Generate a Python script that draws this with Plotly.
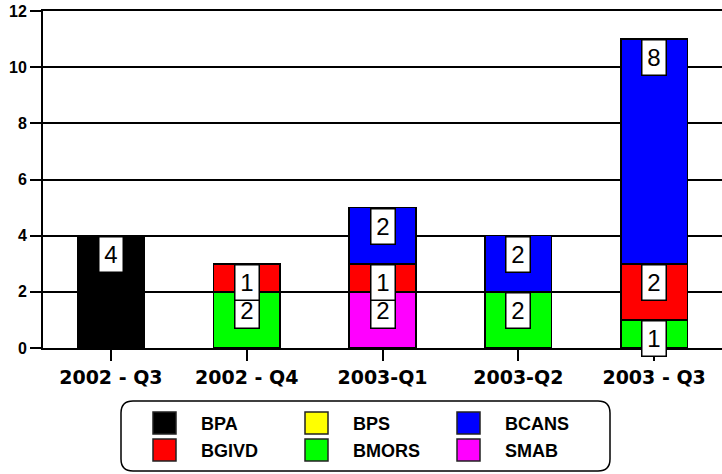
import plotly.graph_objects as go

categories = ["2002 - Q3", "2002 - Q4", "2003-Q1", "2003-Q2", "2003 - Q3"]
series_names = ["BPA", "BPS", "BMORS", "SMAB", "BGIVD", "BCANS"]
BPA = [4, 0, 0, 0, 0]
BPS = [0, 0, 0, 0, 0]
BMORS = [0, 2, 0, 2, 1]
SMAB = [0, 0, 2, 0, 0]
BGIVD = [0, 1, 1, 0, 2]
BCANS = [0, 0, 2, 2, 8]
series_values = [BPA, BPS, BMORS, SMAB, BGIVD, BCANS]
series_colors = ["#000000", "#ffff00", "#00ff00", "#ff00ff", "#ff0000", "#0000ff"]
legend_order = ["BPA", "BPS", "BCANS", "BGIVD", "BMORS", "SMAB"]
y_ticks = [0, 2, 4, 6, 8, 10, 12]

W, H = 722, 474
L, R, T, B = 43, 0, 11, 126
PW, PH = W - L - R, H - T - B

def px(x):
    return (x - L) / PW

def py(y):
    return (H - B - y) / PH

fig = go.Figure()
for name, vals, col in zip(series_names, series_values, series_colors):
    fig.add_trace(go.Bar(
        x=categories, y=[v if v else None for v in vals], name=name,
        marker=dict(color=col, line=dict(color="#000000", width=1.5)),
        showlegend=False, hoverinfo="skip"))

annotations = []
cum = [0] * len(categories)
for vals in series_values:
    for i, v in enumerate(vals):
        if v:
            cum[i] += v
            annotations.append(dict(
                x=categories[i], y=cum[i], xref="x", yref="y", text=str(v),
                showarrow=False, yanchor="top", xanchor="center",
                font=dict(family="Liberation Sans, Arial", size=24, color="black"),
                bgcolor="white", bordercolor="black", borderwidth=1.5,
                borderpad=2, width=19, height=30))

# legend box
shapes = []
x0, x1, y0, y1, r = 121, 610, 401, 471, 12
rx, ry = r / PW, r / PH
X0, X1, Y0, Y1 = px(x0), px(x1), py(y0), py(y1)
path = (f"M {X0+rx},{Y0} L {X1-rx},{Y0} Q {X1},{Y0} {X1},{Y0-ry} "
        f"L {X1},{Y1+ry} Q {X1},{Y1} {X1-rx},{Y1} L {X0+rx},{Y1} "
        f"Q {X0},{Y1} {X0},{Y1+ry} L {X0},{Y0-ry} Q {X0},{Y0} {X0+rx},{Y0} Z")
shapes.append(dict(type="path", path=path, xref="paper", yref="paper",
                   line=dict(color="black", width=1.5), fillcolor="white", layer="below"))

col_sq = [153, 305, 457]
col_tx = [199, 351, 503]
row_sq = [412, 439]
row_tx = [424, 451]
color_of = dict(zip(series_names, series_colors))
for k, name in enumerate(legend_order):
    r_i, c_i = divmod(k, 3)
    shapes.append(dict(type="rect", xref="paper", yref="paper",
                       x0=px(col_sq[c_i]), x1=px(col_sq[c_i] + 23),
                       y0=py(row_sq[r_i]), y1=py(row_sq[r_i] + 22),
                       fillcolor=color_of[name], line=dict(color="#222222", width=1.5)))
    annotations.append(dict(x=px(col_tx[c_i]), y=py(row_tx[r_i]), xref="paper", yref="paper",
                            text=f"<b>{name}</b>", showarrow=False, xanchor="left", yanchor="middle",
                            font=dict(family="Liberation Sans, Arial", size=18, color="black")))

fig.update_layout(
    width=W, height=H, margin=dict(l=L, r=R, t=T, b=B),
    paper_bgcolor="white", plot_bgcolor="white",
    barmode="stack", bargap=0.51,
    shapes=shapes, annotations=annotations,
    xaxis=dict(showline=True, mirror=True, linecolor="black", linewidth=2, ticks="outside",
               ticklen=11, tickwidth=1.5, tickcolor="black", showgrid=False,
               tickfont=dict(family="DejaVu Sans", size=19, color="black"),
               tickvals=categories, ticktext=[f"<b>{c}</b>" for c in categories]),
    yaxis=dict(range=[0, 12], tickvals=y_ticks, ticktext=[f"<b>{t}</b>" for t in y_ticks],
               showline=True, linecolor="black", linewidth=2, ticks="outside",
               ticklen=11, tickwidth=1.5, tickcolor="black",
               showgrid=True, gridcolor="black", gridwidth=1.5, zeroline=False,
               tickfont=dict(family="Liberation Sans, Arial", size=16, color="black")),
)
fig.write_html("out.html", config={"displayModeBar": False},
               post_script="document.body.style.margin='0px';")
